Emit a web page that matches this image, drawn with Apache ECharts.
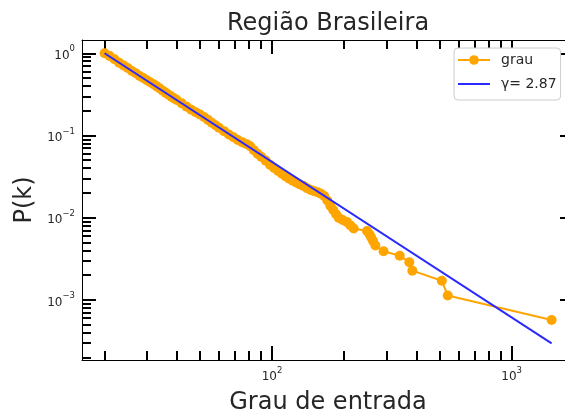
<!DOCTYPE html>
<html>
<head>
<meta charset="utf-8">
<script src="https://cdn.jsdelivr.net/npm/echarts@6/dist/echarts.min.js"></script>
<style>
  html, body { margin: 0; padding: 0; background: #ffffff; }
  #chart { width: 565px; height: 412px; }
</style>
</head>
<body>
<div id="chart"></div>
<script>
// Complementary degree distribution of the network (in-degree >= 20)
const degree = [
  20, 21, 22, 23, 24, 25, 26, 27, 28, 29, 30, 31, 32, 33, 34, 35, 36, 37, 38, 39, 40,
  42, 44, 46, 48, 50, 52, 54, 56, 58, 60,
  63, 66, 69, 72, 75, 78, 81, 84, 87, 90,
  94, 98, 102, 106, 110, 114, 118, 122, 126, 130,
  135, 140, 145, 150, 155, 160, 165, 170,
  175, 180, 185, 190, 197, 205, 212, 219,
  249, 255, 259, 264, 270, 292, 341, 374, 385, 511, 541, 1468
];
const probability = [
  1.0, 0.925, 0.845, 0.768, 0.712, 0.662, 0.610, 0.572, 0.530, 0.500, 0.470, 0.445, 0.420, 0.396, 0.372, 0.350, 0.330, 0.313, 0.297, 0.283, 0.270,
  0.246, 0.224, 0.206, 0.192, 0.180, 0.168, 0.155, 0.143, 0.133, 0.124,
  0.113, 0.103, 0.095, 0.088, 0.083, 0.079, 0.074, 0.066, 0.060, 0.055,
  0.0495, 0.0440, 0.0402, 0.0370, 0.0342, 0.0318, 0.0298, 0.0282, 0.0268, 0.0255,
  0.0244, 0.0229, 0.0218, 0.0210, 0.0204, 0.0196, 0.0184, 0.0162,
  0.0140, 0.0124, 0.0110, 0.0099, 0.0094, 0.0089, 0.0081, 0.0074,
  0.0069, 0.0063, 0.0058, 0.0052, 0.0046, 0.0039, 0.00345, 0.00287, 0.00227, 0.00171, 0.00113, 0.00057
];

// Fitted power law, drawn between its end points
const fitDegree = [20, 1468];
const fitProbability = [1.0, 2.97e-4];

const seriesNames = ['grau', 'γ= 2.87'];
const chartTitle = 'Região Brasileira';
const xName = 'Grau de entrada';
const yName = 'P(k)';

// Axis ranges and tick positions
const xRange = [16.1, 1820];
const yRange = [1.86e-4, 1.45];
const xMajorTicks = [100, 1000];
const xMinorTicks = [20, 30, 40, 50, 60, 70, 80, 90, 200, 300, 400, 500, 600, 700, 800, 900];
const yMajorTicks = [1, 0.1, 0.01, 0.001];
const yMinorTicks = [
  0.2, 0.3, 0.4, 0.5, 0.6, 0.7, 0.8, 0.9,
  0.02, 0.03, 0.04, 0.05, 0.06, 0.07, 0.08, 0.09,
  0.002, 0.003, 0.004, 0.005, 0.006, 0.007, 0.008, 0.009,
  0.0002, 0.0003, 0.0004, 0.0005, 0.0006, 0.0007, 0.0008, 0.0009
];

const FONT = 'DejaVu Sans';
const TEXT = '#262626';

function powLabel(v) {
  const e = Math.round(Math.log10(v));
  const s = e < 0 ? '\u2212' + (-e) : String(e);
  return '{b|10}{s|' + s + '}';
}
const powRich = {
  b: { fontFamily: FONT, fontSize: 12, color: TEXT, lineHeight: 17, verticalAlign: 'bottom' },
  s: { fontFamily: FONT, fontSize: 8.5, color: TEXT, lineHeight: 17, verticalAlign: 'top' }
};

function makeAxis(kind, position, major) {
  const range = kind === 'x' ? xRange : yRange;
  const majors = kind === 'x' ? xMajorTicks : yMajorTicks;
  const minors = kind === 'x' ? xMinorTicks : yMinorTicks;
  const primary = major && (position === 'bottom' || position === 'left');
  const axis = {
    type: 'log',
    logBase: 10,
    min: range[0],
    max: range[1],
    position: position,
    gridIndex: 0,
    axisLine: { show: major, onZero: false, lineStyle: { color: '#000', width: 1 } },
    axisTick: {
      show: true,
      inside: true,
      length: major ? 14 : 9,
      customValues: major ? majors : minors,
      lineStyle: { color: '#000', width: 2 }
    },
    axisLabel: {
      show: primary,
      customValues: majors,
      formatter: powLabel,
      rich: powRich,
      margin: kind === 'x' ? 6 : 7
    },
    splitLine: { show: false },
    minorTick: { show: false },
    minorSplitLine: { show: false }
  };
  if (primary) {
    axis.name = kind === 'x' ? xName : yName;
    axis.nameLocation = 'middle';
    axis.nameGap = kind === 'x' ? 31 : 43;
    axis.nameTextStyle = { fontFamily: FONT, fontSize: 24, color: TEXT };
  }
  return axis;
}

const chart = echarts.init(document.getElementById('chart'), null, { renderer: 'canvas' });
chart.setOption({
  animation: false,
  backgroundColor: '#ffffff',
  title: {
    text: chartTitle,
    left: 328,
    top: 12,
    padding: 0,
    textAlign: 'center',
    textStyle: { fontFamily: FONT, fontSize: 24, fontWeight: 'normal', color: TEXT }
  },
  // the frame's right edge lies just beyond the canvas
  grid: { left: 82, width: 492, top: 40, height: 320, outerBoundsMode: 'none', containLabel: false },
  xAxis: [
    makeAxis('x', 'bottom', true),
    makeAxis('x', 'bottom', false),
    makeAxis('x', 'top', true),
    makeAxis('x', 'top', false)
  ],
  yAxis: [
    makeAxis('y', 'left', true),
    makeAxis('y', 'left', false),
    makeAxis('y', 'right', true),
    makeAxis('y', 'right', false)
  ],
  legend: {
    orient: 'vertical',
    left: 454,
    top: 48,
    padding: [5, 4, 9, 3],
    itemWidth: 32,
    itemHeight: 12,
    itemGap: 10,
    backgroundColor: '#ffffff',
    borderColor: '#cccccc',
    borderWidth: 1,
    borderRadius: 4,
    textStyle: { fontFamily: FONT, fontSize: 14, color: TEXT, padding: [0, 0, 0, 6] },
    data: [seriesNames[0], { name: seriesNames[1], itemStyle: { opacity: 0 } }]
  },
  series: [
    {
      name: seriesNames[0],
      type: 'line',
      xAxisIndex: 0,
      yAxisIndex: 0,
      data: degree.map((k, i) => [k, probability[i]]),
      symbol: 'circle',
      symbolSize: 10,
      showAllSymbol: true,
      lineStyle: { color: '#FFA500', width: 2 },
      itemStyle: { color: '#FFA500' },
      z: 2
    },
    {
      name: seriesNames[1],
      type: 'line',
      xAxisIndex: 0,
      yAxisIndex: 0,
      data: fitDegree.map((k, i) => [k, fitProbability[i]]),
      showSymbol: false,
      symbol: 'none',
      lineStyle: { color: '#2a2aff', width: 2 },
      itemStyle: { color: '#2a2aff' },
      z: 3
    }
  ]
});
</script>
</body>
</html>
